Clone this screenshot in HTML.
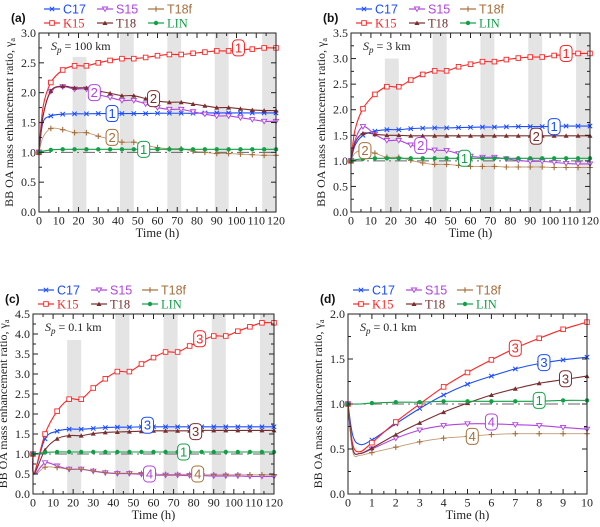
<!DOCTYPE html>
<html><head><meta charset="utf-8"><style>
html,body{margin:0;padding:0;background:#fff;}
svg{display:block;}
text{font-family:"Liberation Serif",serif;}
.sans{font-family:"Liberation Sans",sans-serif;}
</style></head><body>
<svg id="fig" width="600" height="527" viewBox="0 0 600 527" xmlns="http://www.w3.org/2000/svg"></svg>
<script>
// ---- shared data ----
const seriesNames = ["C17","K15","S15","T18","T18f","LIN"];
const seriesColors = {C17:"#1a4cff",K15:"#ff2424",S15:"#b044e0",T18:"#7a2e2e",T18f:"#a66f3a",LIN:"#12a046"};
const nightStarts = [17,41,65,89,113];
const nightLength = 7;

// ---- panel a (Sp = 100 km) ----
const timesA = [0,2,6,12,18,24,30,36,42,48,54,60,66,72,78,84,90,96,102,108,114,120];
const aC17 = [1.0,1.5,1.61,1.64,1.645,1.645,1.65,1.65,1.65,1.65,1.65,1.655,1.655,1.655,1.655,1.66,1.66,1.66,1.66,1.66,1.66,1.66];
const aK15 = [1.0,1.75,2.17,2.38,2.45,2.45,2.5,2.54,2.57,2.57,2.59,2.62,2.64,2.64,2.66,2.68,2.70,2.70,2.72,2.73,2.75,2.75];
const aS15 = [1.0,1.6,2.02,2.10,2.06,2.06,1.97,1.92,1.87,1.87,1.81,1.75,1.72,1.72,1.68,1.64,1.61,1.61,1.58,1.55,1.52,1.52];
const aT18 = [1.0,1.6,2.03,2.11,2.08,2.08,2.03,1.99,1.95,1.95,1.90,1.86,1.84,1.84,1.81,1.78,1.75,1.75,1.73,1.71,1.70,1.70];
const aT18f = [1.0,1.25,1.40,1.38,1.33,1.33,1.27,1.22,1.17,1.17,1.12,1.08,1.06,1.06,1.02,1.0,0.98,0.98,0.97,0.96,0.95,0.95];
const aLIN = [1.0,1.02,1.04,1.05,1.05,1.05,1.05,1.05,1.05,1.05,1.05,1.05,1.05,1.05,1.05,1.05,1.05,1.05,1.05,1.05,1.05,1.05];

// ---- panel b (Sp = 3 km) ----
const timesB = timesA;
const bC17 = [1.0,1.3,1.50,1.58,1.61,1.61,1.63,1.64,1.645,1.645,1.65,1.655,1.66,1.66,1.665,1.67,1.67,1.67,1.675,1.68,1.68,1.68];
const bK15 = [1.0,1.6,2.02,2.30,2.45,2.45,2.58,2.69,2.76,2.76,2.84,2.89,2.94,2.94,2.98,3.01,3.03,3.03,3.06,3.08,3.10,3.10];
const bS15 = [1.0,1.4,1.67,1.52,1.40,1.40,1.31,1.25,1.21,1.20,1.14,1.09,1.07,1.07,1.04,1.01,0.99,0.99,0.97,0.95,0.94,0.94];
const bT18 = [1.0,1.35,1.54,1.52,1.50,1.50,1.49,1.49,1.49,1.49,1.49,1.49,1.49,1.49,1.49,1.49,1.49,1.49,1.49,1.49,1.49,1.49];
const bT18f = [1.0,1.15,1.21,1.15,1.07,1.07,1.01,0.96,0.93,0.93,0.91,0.89,0.89,0.89,0.88,0.88,0.88,0.88,0.87,0.87,0.87,0.87];
const bLIN = [1.0,1.02,1.04,1.05,1.05,1.05,1.05,1.05,1.05,1.05,1.05,1.05,1.05,1.05,1.05,1.05,1.05,1.05,1.05,1.05,1.05,1.05];

// ---- panel c (Sp = 0.1 km, 120 h) ----
const timesC = [0,0.5,6,12,18,24,30,36,42,48,54,60,66,72,78,84,90,96,102,108,114,120];
const cC17 = [1.0,0.5,1.38,1.57,1.62,1.62,1.64,1.66,1.67,1.67,1.68,1.68,1.68,1.68,1.68,1.68,1.68,1.68,1.68,1.68,1.68,1.68];
const cK15 = [1.0,0.5,1.50,2.07,2.37,2.37,2.65,2.88,3.06,3.06,3.25,3.41,3.55,3.55,3.70,3.83,3.95,3.95,4.07,4.18,4.28,4.28];
const cS15 = [1.0,0.5,0.78,0.70,0.62,0.62,0.57,0.53,0.51,0.51,0.49,0.47,0.47,0.47,0.46,0.46,0.45,0.45,0.45,0.44,0.44,0.44];
const cT18 = [1.0,0.5,1.10,1.38,1.46,1.46,1.51,1.54,1.55,1.56,1.57,1.58,1.58,1.58,1.58,1.59,1.59,1.59,1.59,1.59,1.59,1.59];
const cT18f = [1.0,0.5,0.67,0.66,0.62,0.62,0.58,0.54,0.52,0.52,0.51,0.50,0.49,0.49,0.49,0.48,0.48,0.48,0.48,0.48,0.48,0.48];
const cLIN = [1.0,1.0,1.04,1.05,1.05,1.05,1.05,1.05,1.05,1.05,1.05,1.05,1.05,1.05,1.05,1.05,1.05,1.05,1.05,1.05,1.05,1.05];

// ---- panel d (Sp = 0.1 km, 10 h) ----
const timesD = [0,0.2,0.5,1,2,3,4,5,6,7,8,9,10];
const dC17 = [1.0,0.65,0.55,0.60,0.78,0.95,1.10,1.22,1.31,1.39,1.45,1.49,1.52];
const dK15 = [1.0,0.55,0.47,0.57,0.80,1.00,1.19,1.35,1.49,1.62,1.73,1.83,1.91];
const dS15 = [1.0,0.50,0.45,0.50,0.62,0.71,0.76,0.78,0.78,0.77,0.76,0.74,0.72];
const dT18 = [1.0,0.50,0.45,0.51,0.66,0.79,0.91,1.01,1.10,1.17,1.23,1.27,1.31];
const dT18f = [1.0,0.47,0.43,0.46,0.52,0.58,0.62,0.64,0.66,0.67,0.67,0.67,0.67];
const dLIN = [1.0,1.0,1.0,1.01,1.02,1.02,1.03,1.03,1.03,1.03,1.03,1.04,1.04];

const tickXLong = [0,10,20,30,40,50,60,70,80,90,100,110,120];
const tickXShort = [0,1,2,3,4,5,6,7,8,9,10];

const panels = [
 {id:"a",L:39,R:276,T:33,B:212,xmax:120,ymax:3.0,yStep:0.5,xt:tickXLong,xminor:5,times:timesA,
  data:{C17:aC17,K15:aK15,S15:aS15,T18:aT18,T18f:aT18f,LIN:aLIN},sp:"100 km",night:true,band1Top:2.6,
  tags:[["K15","1",101,2.75],["S15","2",28,2.0],["T18","2",58,1.9],["C17","1",37,1.65],["T18f","2",37,1.25],["LIN","1",53,1.05]]},
 {id:"b",L:351,R:590,T:33,B:212,xmax:120,ymax:3.5,yStep:0.5,xt:tickXLong,xminor:5,times:timesB,
  data:{C17:bC17,K15:bK15,S15:bS15,T18:bT18,T18f:bT18f,LIN:bLIN},sp:"3 km",night:true,band1Top:3.0,
  tags:[["K15","1",108,3.1],["C17","1",102,1.67],["T18","2",93,1.48],["S15","2",35,1.3],["T18f","2",7,1.2],["LIN","1",57,1.05]]},
 {id:"c",L:33,R:274,T:314,B:494,xmax:120,ymax:4.5,yStep:0.5,xt:tickXLong,xminor:5,times:timesC,
  data:{C17:cC17,K15:cK15,S15:cS15,T18:cT18,T18f:cT18f,LIN:cLIN},sp:"0.1 km",night:true,band1Top:3.85,
  tags:[["K15","3",83,3.88],["C17","3",57,1.72],["T18","3",81,1.56],["LIN","1",75,1.05],["S15","4",58,0.5],["T18f","4",82,0.5]]},
 {id:"d",L:348,R:587,T:314,B:494,xmax:10,ymax:2.0,yStep:0.5,xt:tickXShort,xminor:0.5,times:timesD,
  data:{C17:dC17,K15:dK15,S15:dS15,T18:dT18,T18f:dT18f,LIN:dLIN},sp:"0.1 km",night:false,
  tags:[["K15","3",7,1.62],["C17","3",8.2,1.46],["T18","3",9.1,1.28],["LIN","1",8,1.04],["S15","4",6,0.80],["T18f","4",5.2,0.64]]}
];

const NS="http://www.w3.org/2000/svg";
const svg=document.getElementById("fig");
function mk(tag,attrs,parent){const e=document.createElementNS(NS,tag);for(const k in attrs)e.setAttribute(k,attrs[k]);(parent||svg).appendChild(e);return e;}

function smoothPath(pts){
 let d="M"+pts[0][0].toFixed(2)+","+pts[0][1].toFixed(2);
 for(let i=0;i<pts.length-1;i++){
  const p0=pts[Math.max(0,i-1)],p1=pts[i],p2=pts[i+1],p3=pts[Math.min(pts.length-1,i+2)];
  const c1=[p1[0]+(p2[0]-p0[0])/6,p1[1]+(p2[1]-p0[1])/6];
  const c2=[p2[0]-(p3[0]-p1[0])/6,p2[1]-(p3[1]-p1[1])/6];
  d+=" C"+c1[0].toFixed(2)+","+c1[1].toFixed(2)+" "+c2[0].toFixed(2)+","+c2[1].toFixed(2)+" "+p2[0].toFixed(2)+","+p2[1].toFixed(2);
 }
 return d;
}

function marker(name,x,y,col,g){
 let m;
 if(name==="C17"){m=mk("path",{d:`M${x-2.2},${y-2.2}L${x+2.2},${y+2.2}M${x-2.2},${y+2.2}L${x+2.2},${y-2.2}`,stroke:col,"stroke-width":1},g);}
 else if(name==="K15"){m=mk("rect",{x:x-2.3,y:y-2.3,width:4.6,height:4.6,fill:"#fff",stroke:col,"stroke-width":0.9},g);}
 else if(name==="S15"){m=mk("path",{d:`M${x-2.6},${y-2}L${x+2.6},${y-2}L${x},${y+2.4}Z`,fill:"#fff",stroke:col,"stroke-width":0.9},g);}
 else if(name==="T18"){m=mk("path",{d:`M${x-2.5},${y+2}L${x+2.5},${y+2}L${x},${y-2.4}Z`,fill:col},g);}
 else if(name==="T18f"){m=mk("path",{d:`M${x-2.8},${y}L${x+2.8},${y}M${x},${y-2.8}L${x},${y+2.8}`,stroke:col,"stroke-width":1.1},g);}
 else {m=mk("circle",{cx:x,cy:y,r:2.2,fill:col},g);}
 return m;
}

panels.forEach(p=>{
 const g=mk("g",{});
 
 
 const sx=v=>p.L+(p.R-p.L)*v/p.xmax;
 const sy=v=>p.B-(p.B-p.T)*v/p.ymax;
 if(p.night){
  nightStarts.forEach((s,i)=>{
   const top=i===0?sy(p.band1Top):p.T;
   const r=mk("rect",{x:sx(s),y:top,width:sx(s+nightLength)-sx(s),height:p.B-top,fill:"#e4e4e4"},g);
   
   
  });
 }
 const ref=mk("line",{x1:p.L,x2:p.R,y1:sy(1),y2:sy(1),stroke:"#666","stroke-width":1,"stroke-dasharray":"12,4,2,4"},g);
 
 
 seriesNames.forEach(n=>{
  const vals=p.data[n],col=seriesColors[n];
  const pts=p.times.map((t,i)=>[sx(t),sy(vals[i])]);
  const sg=mk("g",{},g);
  
  
  mk("path",{d:smoothPath(pts),fill:"none",stroke:col,"stroke-width":n==="T18f"?0.9:1.1,"stroke-opacity":n==="T18f"?0.7:1},sg);
  p.times.forEach((t,i)=>{
   const show=p.xmax===10?(Number.isInteger(t)):(t%6===0);
   if(show){const m=marker(n,sx(t),sy(vals[i]),col,sg);
    
    }
  });
 });
 p.tags.forEach(tg=>{
  const col=seriesColors[tg[0]];
  const cx=sx(tg[2]),cy=sy(tg[3]);
  const tgg=mk("g",{},g);
  
  
  mk("rect",{x:cx-6,y:cy-8,width:12,height:16,rx:4,fill:"#fff",stroke:col,"stroke-width":1},tgg);
  const t=mk("text",{x:cx,y:cy+4.5,"text-anchor":"middle","font-size":13,fill:col,class:"sans"},tgg);
  t.textContent=tg[1];
 });
 const fr=mk("rect",{x:p.L,y:p.T,width:p.R-p.L,height:p.B-p.T,fill:"none",stroke:"#222","stroke-width":1},g);
 
 
 for(let v=0;v<=p.xmax+1e-9;v+=p.xminor){
  const major=p.xt.some(t=>Math.abs(t-v)<1e-9);
  const len=major?5:3;
  mk("line",{x1:sx(v),x2:sx(v),y1:p.B,y2:p.B-len,stroke:"#222","stroke-width":1},g);
  mk("line",{x1:sx(v),x2:sx(v),y1:p.T,y2:p.T+len,stroke:"#222","stroke-width":1},g);
 }
 p.xt.forEach(v=>{
  const t=mk("text",{x:sx(v),y:p.B+12.5,"text-anchor":"middle","font-size":12,fill:"#222"},g);
  t.textContent=v;
  
  
 });
 for(let v=0;v<=p.ymax+1e-9;v+=p.yStep/2){
  const major=Math.abs(v/p.yStep-Math.round(v/p.yStep))<1e-6;
  const len=major?5:3;
  mk("line",{x1:p.L,x2:p.L+len,y1:sy(v),y2:sy(v),stroke:"#222","stroke-width":1},g);
  mk("line",{x1:p.R,x2:p.R-len,y1:sy(v),y2:sy(v),stroke:"#222","stroke-width":1},g);
  if(major){
   const t=mk("text",{x:p.L-3,y:sy(v)+4,"text-anchor":"end","font-size":12,fill:"#222"},g);
   t.textContent=v.toFixed(1);
   
   
  }
 }
 const xt=mk("text",{x:(p.L+p.R)/2,y:p.B+25,"text-anchor":"middle","font-size":12.5,fill:"#222"},g);
 xt.textContent="Time (h)";
 
 
 const yx=p.L-26,yy=(p.T+p.B)/2;
 const yt=mk("text",{x:yx,y:yy,"text-anchor":"middle","font-size":12,fill:"#222",transform:`rotate(-90 ${yx} ${yy})`},g);
 yt.innerHTML='BB OA mass enhancement ratio, γ<tspan font-size="8" dy="2">a</tspan>';
 
 
 const sp=mk("text",{x:p.L+12,y:p.T+17,"font-size":12,fill:"#222"},g);
 sp.innerHTML='<tspan font-style="italic">S</tspan><tspan font-style="italic" font-size="9" dy="3">p</tspan><tspan dy="-3"> = '+p.sp+'</tspan>';
 
 
 const pl=mk("text",{x:p.L-28,y:p.T-11,"font-size":12,"font-weight":"bold",fill:"#111",class:"sans"},g);
 pl.textContent="("+p.id+")";
 
 
 const lg=mk("g",{},g);
 
 
 const offs=[5,58,109];
 seriesNames.forEach((n,i)=>{
  const col=seriesColors[n];
  const lx=p.L+offs[[0,0,1,1,2,2][i]];
  const ly=p.T+(i%2===0?-24:-10);
  const eg=mk("g",{},lg);
  
  
  mk("line",{x1:lx,x2:lx+16,y1:ly,y2:ly,stroke:col,"stroke-width":1.2},eg);
  marker(n,lx+8,ly,col,eg);
  const t=mk("text",{x:lx+19,y:ly+4.5,"font-size":12.5,fill:col,class:i%2===0?"sans":""},eg);
  t.textContent=n;
 });
});
</script>
</body></html>
